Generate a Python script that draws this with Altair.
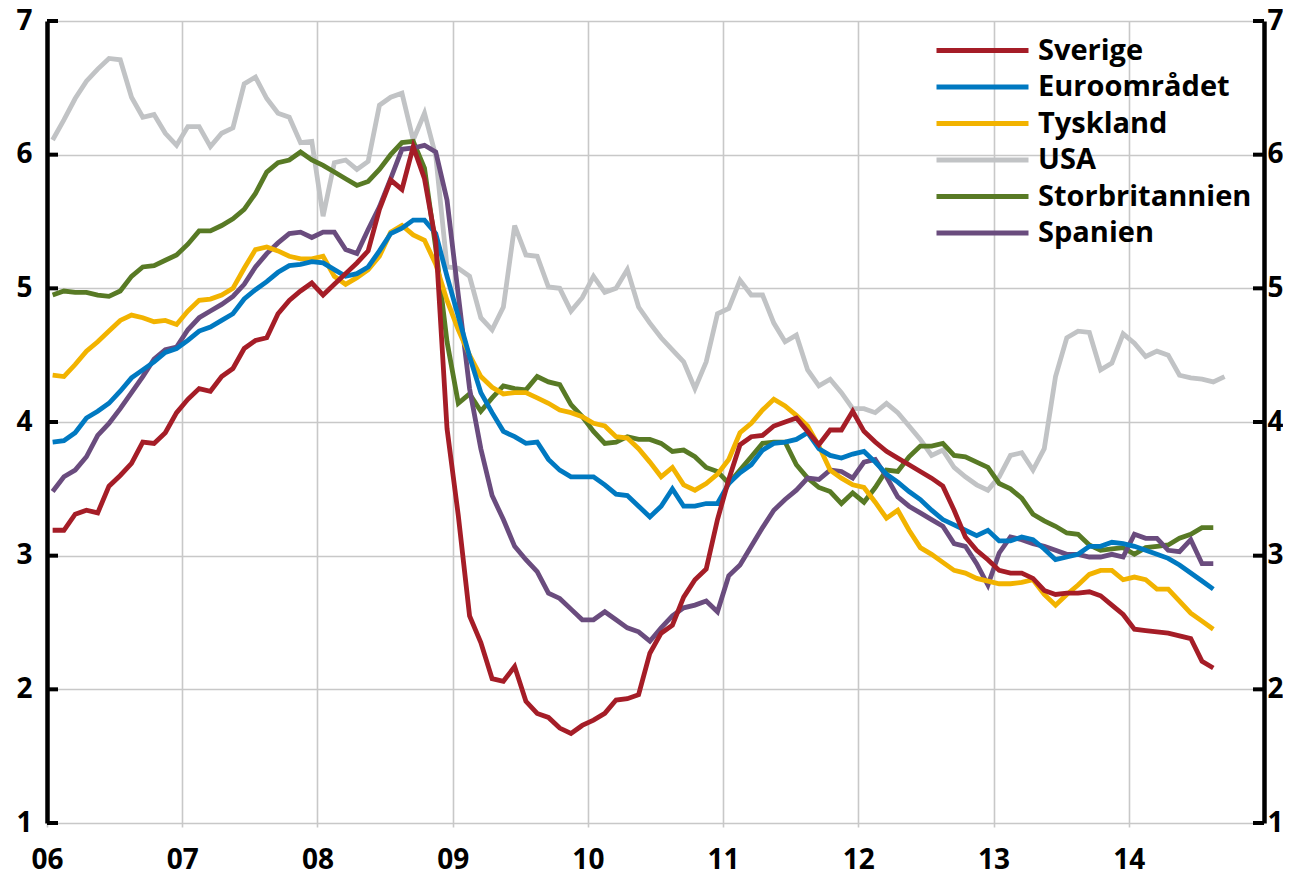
import altair as alt
import pandas as pd

# ---------------- data (monthly, Jan 2006 onwards) ----------------
series_names = ["Sverige", "Euroområdet", "Tyskland", "USA", "Storbritannien", "Spanien"]
series_colors = ["#a51d27", "#0079c1", "#f2b300", "#c1c3c5", "#587a25", "#6a4c7e"]
draw_order = ["USA", "Storbritannien", "Spanien", "Tyskland", "Euroområdet", "Sverige"]
start_year = 2006

sverige = [3.19, 3.19, 3.31, 3.34, 3.32, 3.52, 3.60, 3.69, 3.85, 3.84, 3.92, 4.07,
           4.17, 4.25, 4.23, 4.34, 4.40, 4.55, 4.61, 4.63, 4.81, 4.91, 4.98, 5.04,
           4.95, 5.03, 5.11, 5.19, 5.28, 5.59, 5.81, 5.74, 6.06, 5.82, 5.35, 3.95,
           3.30, 2.55, 2.35, 2.08, 2.06, 2.17, 1.91, 1.82, 1.79, 1.71, 1.67, 1.73,
           1.77, 1.82, 1.92, 1.93, 1.96, 2.27, 2.42, 2.48, 2.69, 2.82, 2.90, 3.27,
           3.57, 3.83, 3.89, 3.90, 3.97, 4.00, 4.03, 3.93, 3.83, 3.94, 3.94, 4.08,
           3.93, 3.85, 3.78, 3.73, 3.68, 3.63, 3.58, 3.52, 3.34, 3.14, 3.04, 2.97,
           2.89, 2.87, 2.87, 2.83, 2.74, 2.71, 2.72, 2.72, 2.73, 2.70, 2.63, 2.56,
           2.45, 2.44, 2.43, 2.42, 2.40, 2.38, 2.21, 2.16]

euroomradet = [3.85, 3.86, 3.92, 4.03, 4.08, 4.14, 4.23, 4.33, 4.39, 4.45, 4.52, 4.55,
               4.61, 4.68, 4.71, 4.76, 4.81, 4.92, 4.99, 5.05, 5.12, 5.17, 5.18, 5.20,
               5.19, 5.14, 5.09, 5.11, 5.16, 5.28, 5.41, 5.45, 5.51, 5.51, 5.41, 5.09,
               4.79, 4.49, 4.22, 4.07, 3.93, 3.89, 3.84, 3.85, 3.72, 3.64, 3.59, 3.59,
               3.59, 3.53, 3.46, 3.45, 3.37, 3.29, 3.37, 3.50, 3.37, 3.37, 3.39, 3.39,
               3.54, 3.62, 3.68, 3.79, 3.84, 3.85, 3.87, 3.92, 3.80, 3.75, 3.73, 3.76,
               3.78, 3.70, 3.61, 3.55, 3.48, 3.42, 3.34, 3.27, 3.23, 3.19, 3.15, 3.19,
               3.11, 3.11, 3.14, 3.12, 3.05, 2.97, 2.99, 3.01, 3.07, 3.07, 3.10, 3.09,
               3.07, 3.04, 3.01, 2.98, 2.93, 2.87, 2.81, 2.75]

tyskland = [4.35, 4.34, 4.43, 4.53, 4.60, 4.68, 4.76, 4.80, 4.78, 4.75, 4.76, 4.73,
            4.83, 4.91, 4.92, 4.95, 5.00, 5.15, 5.29, 5.31, 5.28, 5.24, 5.22, 5.22,
            5.24, 5.09, 5.03, 5.08, 5.14, 5.24, 5.42, 5.47, 5.40, 5.36, 5.18, 4.91,
            4.69, 4.50, 4.34, 4.26, 4.21, 4.22, 4.22, 4.18, 4.14, 4.09, 4.07, 4.04,
            3.99, 3.97, 3.89, 3.88, 3.80, 3.70, 3.59, 3.66, 3.53, 3.49, 3.54, 3.61,
            3.72, 3.92, 3.99, 4.09, 4.17, 4.12, 4.05, 3.97, 3.82, 3.64, 3.58, 3.53,
            3.51, 3.40, 3.28, 3.34, 3.19, 3.06, 3.01, 2.95, 2.89, 2.87, 2.83, 2.81,
            2.79, 2.79, 2.80, 2.82, 2.71, 2.63, 2.71, 2.78, 2.86, 2.89, 2.89, 2.82,
            2.84, 2.82, 2.75, 2.75, 2.66, 2.57, 2.51, 2.45]

usa = [6.11, 6.26, 6.42, 6.55, 6.64, 6.72, 6.71, 6.43, 6.28, 6.30, 6.16, 6.07,
       6.21, 6.21, 6.06, 6.16, 6.20, 6.53, 6.58, 6.42, 6.31, 6.28, 6.09, 6.10,
       5.54, 5.94, 5.96, 5.89, 5.95, 6.37, 6.43, 6.46, 6.11, 6.31, 5.99, 5.16,
       5.15, 5.09, 4.78, 4.69, 4.86, 5.47, 5.25, 5.24, 5.01, 5.00, 4.83, 4.93,
       5.09, 4.97, 5.00, 5.14, 4.86, 4.74, 4.63, 4.54, 4.45, 4.25, 4.45, 4.81,
       4.85, 5.06, 4.95, 4.95, 4.74, 4.60, 4.65, 4.39, 4.27, 4.32, 4.22, 4.10,
       4.10, 4.07, 4.14, 4.07, 3.97, 3.87, 3.75, 3.79, 3.66, 3.59, 3.53, 3.49,
       3.59, 3.75, 3.77, 3.64, 3.80, 4.34, 4.63, 4.68, 4.67, 4.39, 4.44, 4.66,
       4.59, 4.49, 4.53, 4.50, 4.35, 4.33, 4.32, 4.30, 4.34]

storbritannien = [4.95, 4.98, 4.97, 4.97, 4.95, 4.94, 4.98, 5.09, 5.16, 5.17, 5.21, 5.25,
                  5.33, 5.43, 5.43, 5.47, 5.52, 5.59, 5.71, 5.87, 5.94, 5.96, 6.02, 5.96,
                  5.92, 5.87, 5.82, 5.77, 5.80, 5.89, 6.00, 6.09, 6.10, 5.90, 5.30, 4.60,
                  4.14, 4.21, 4.08, 4.18, 4.27, 4.25, 4.24, 4.34, 4.30, 4.28, 4.13, 4.04,
                  3.93, 3.84, 3.85, 3.89, 3.87, 3.87, 3.84, 3.78, 3.79, 3.74, 3.66, 3.63,
                  3.54, 3.64, 3.74, 3.84, 3.85, 3.85, 3.68, 3.58, 3.51, 3.48, 3.39, 3.47,
                  3.40, 3.51, 3.64, 3.63, 3.74, 3.82, 3.82, 3.84, 3.75, 3.74, 3.70, 3.66,
                  3.54, 3.50, 3.43, 3.31, 3.26, 3.22, 3.17, 3.16, 3.08, 3.04, 3.05, 3.06,
                  3.01, 3.06, 3.07, 3.08, 3.13, 3.16, 3.21, 3.21]

spanien = [3.48, 3.59, 3.64, 3.74, 3.90, 3.99, 4.10, 4.22, 4.34, 4.47, 4.54, 4.56,
           4.69, 4.78, 4.83, 4.88, 4.94, 5.03, 5.16, 5.26, 5.34, 5.41, 5.42, 5.38,
           5.42, 5.42, 5.29, 5.26, 5.44, 5.61, 5.82, 6.04, 6.05, 6.07, 6.02, 5.66,
           4.95, 4.25, 3.80, 3.45, 3.27, 3.07, 2.97, 2.88, 2.72, 2.68, 2.60, 2.52,
           2.52, 2.58, 2.52, 2.46, 2.43, 2.36, 2.46, 2.55, 2.61, 2.63, 2.66, 2.58,
           2.85, 2.93, 3.07, 3.21, 3.34, 3.42, 3.49, 3.58, 3.57, 3.64, 3.63, 3.58,
           3.70, 3.72, 3.59, 3.44, 3.37, 3.32, 3.27, 3.22, 3.09, 3.07, 2.94, 2.78,
           3.02, 3.14, 3.12, 3.09, 3.07, 3.04, 3.01, 3.01, 2.99, 2.99, 3.01, 2.99,
           3.16, 3.13, 3.13, 3.04, 3.03, 3.12, 2.94, 2.94]

year_ticks = [2006, 2007, 2008, 2009, 2010, 2011, 2012, 2013, 2014]
x_domain = [2006, 2015]
y_ticks = [1, 2, 3, 4, 5, 6, 7]

series_values = {
    "Sverige": sverige,
    "Euroområdet": euroomradet,
    "Tyskland": tyskland,
    "USA": usa,
    "Storbritannien": storbritannien,
    "Spanien": spanien,
}

rows = []
for name in draw_order:
    for i, v in enumerate(series_values[name]):
        rows.append({"land": name, "t": start_year + (i + 0.5) / 12.0, "v": v})
df = pd.DataFrame(rows)
ticks_df = pd.DataFrame({"v": y_ticks})

# ---------------- styling ----------------
FONT = "Open Sans"
W, H = 1217, 802
GRID = "#c8c8c8"
AXIS_LABEL_SIZE = 28
LEGEND_LABEL_SIZE = 29

x_scale = alt.Scale(domain=x_domain, nice=False, zero=False)
y_scale = alt.Scale(domain=[1, 7], nice=False, zero=False)

lines = alt.Chart(df).mark_line(strokeWidth=4.8, strokeJoin="miter").encode(
    x=alt.X("t:Q", scale=x_scale,
            axis=alt.Axis(values=year_ticks, title=None, grid=True, gridColor=GRID,
                          gridWidth=1.6, domain=False, ticks=True, tickColor=GRID,
                          tickWidth=1.6, tickSize=4, labelPadding=19,
                          labelFlush=False, labelOverlap=False,
                          labelExpr="substring(toString(datum.value), 2, 4)",
                          labelFont=FONT, labelFontSize=AXIS_LABEL_SIZE,
                          labelFontWeight="bold", labelColor="black")),
    y=alt.Y("v:Q", scale=y_scale,
            axis=alt.Axis(orient="left", values=y_ticks, title=None, grid=True,
                          gridColor=GRID, gridWidth=1.6, domain=True,
                          domainColor="black", domainWidth=4.5, ticks=False,
                          tickSize=0, labelPadding=15, labelFlush=False,
                          labelOverlap=False, labelFont=FONT,
                          labelFontSize=AXIS_LABEL_SIZE, labelFontWeight="bold",
                          labelColor="black")),
    color=alt.Color("land:N",
                    scale=alt.Scale(domain=series_names, range=series_colors),
                    legend=alt.Legend(orient="none", legendX=889, legendY=15,
                                      title=None,
                                      symbolType="M-4.6,0L4.6,0",
                                      symbolSize=400, symbolStrokeWidth=5,
                                      symbolOffset=32, labelOffset=41,
                                      labelFont=FONT,
                                      labelFontSize=LEGEND_LABEL_SIZE,
                                      labelFontWeight="bold", labelColor="black",
                                      labelLimit=400, rowPadding=6.5, padding=0)),
)

left_ticks = alt.Chart(ticks_df).mark_rule(color="black", strokeWidth=4).encode(
    y=alt.Y("v:Q", scale=y_scale, axis=None),
    x=alt.value(0), x2=alt.value(11),
)

right_ticks = alt.Chart(ticks_df).mark_rule(color="black", strokeWidth=4).encode(
    y=alt.Y("v:Q", scale=y_scale,
            axis=alt.Axis(orient="right", values=y_ticks, title=None, grid=False,
                          domain=True, domainColor="black", domainWidth=4.5,
                          ticks=False, tickSize=0, labelPadding=3,
                          labelFlush=False, labelOverlap=False, labelFont=FONT,
                          labelFontSize=AXIS_LABEL_SIZE, labelFontWeight="bold",
                          labelColor="black")),
    x=alt.value(W - 11), x2=alt.value(W),
)

chart = alt.layer(lines, left_ticks, right_ticks).resolve_axis(
    y="independent"
).properties(
    width=W, height=H,
    padding={"left": 39, "top": 13, "right": 19, "bottom": 53},
    autosize=alt.AutoSizeParams(type="none"),
).configure_view(stroke=None)

chart.save("out.html", embed_options={"renderer": "svg", "actions": False})
